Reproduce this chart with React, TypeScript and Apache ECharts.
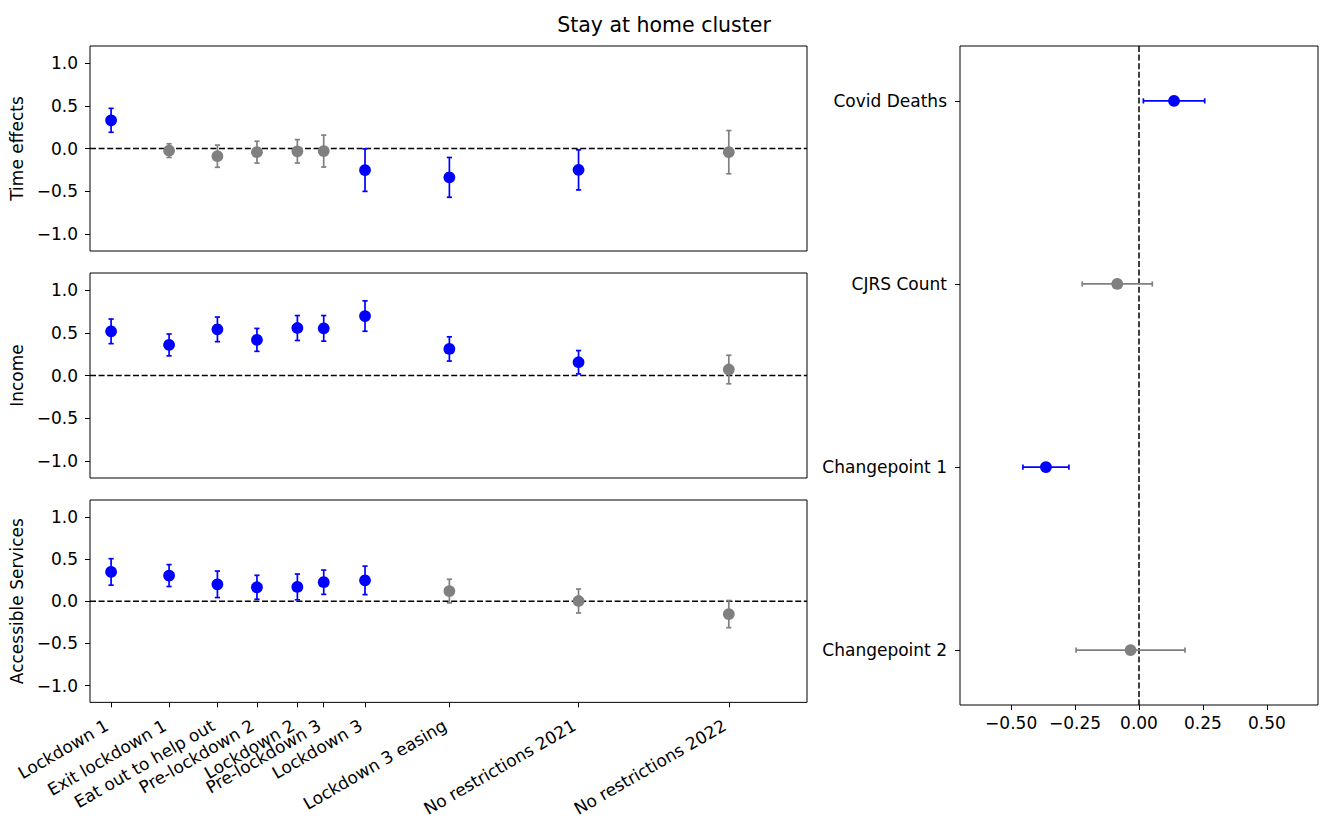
import React, { useEffect, useRef } from "react";
import * as echarts from "echarts";

// ---- data ----
const periodLabels = [
  "Lockdown 1",
  "Exit lockdown 1",
  "Eat out to help out",
  "Pre-lockdown 2",
  "Lockdown 2",
  "Pre-lockdown 3",
  "Lockdown 3",
  "Lockdown 3 easing",
  "No restrictions 2021",
  "No restrictions 2022",
];
// position of each period on the shared time axis (days since Lockdown 1)
const periodPositions = [0, 66, 121, 166, 212, 242, 289, 385, 532, 703];
const timeAxisMin = -24;
const timeAxisMax = 792;

const timeEffectsEst = [0.33, -0.025, -0.09, -0.043, -0.033, -0.03, -0.253, -0.338, -0.25, -0.043];
const timeEffectsErr = [0.14, 0.08, 0.13, 0.128, 0.137, 0.187, 0.249, 0.233, 0.235, 0.253];
const timeEffectsSig = [1, 0, 0, 0, 0, 0, 1, 1, 1, 0];

const incomeEst = [0.517, 0.358, 0.54, 0.417, 0.556, 0.552, 0.696, 0.311, 0.155, 0.07];
const incomeErr = [0.144, 0.128, 0.144, 0.134, 0.146, 0.15, 0.178, 0.142, 0.137, 0.167];
const incomeSig = [1, 1, 1, 1, 1, 1, 1, 1, 1, 0];

const servicesEst = [0.347, 0.304, 0.2, 0.165, 0.169, 0.225, 0.247, 0.12, 0.002, -0.153];
const servicesErr = [0.157, 0.13, 0.157, 0.142, 0.153, 0.144, 0.169, 0.14, 0.142, 0.161];
const servicesSig = [1, 1, 1, 1, 1, 1, 1, 0, 0, 0];

const leftYTicks = [-1, -0.5, 0, 0.5, 1];

const coefNames = ["Covid Deaths", "CJRS Count", "Changepoint 1", "Changepoint 2"];
const coefEst = [0.137, -0.085, -0.364, -0.033];
const coefErr = [0.12, 0.137, 0.09, 0.213];
const coefSig = [1, 0, 1, 0];
const coefXTicks = [-0.5, -0.25, 0, 0.25, 0.5];

const panelNames = ["Time effects", "Income", "Accessible Services"];
const title = "Stay at home cluster";

// ---- styling ----
const BLUE = "#0000ff";
const GRAY = "#808080";
const FONT = "DejaVu Sans";
const FS = 17;

const minus = (s: string) => s.replace("-", "\u2212");

function vertErrRender(params: any, api: any) {
  const x = api.value(0);
  const y = api.value(1);
  const e = api.value(2);
  const color = api.value(3) ? BLUE : GRAY;
  const c = api.coord([x, y]);
  const t = api.coord([x, y + e]);
  const b = api.coord([x, y - e]);
  const cap = 2.6;
  return {
    type: "group",
    children: [
      { type: "line", shape: { x1: c[0], y1: t[1], x2: c[0], y2: b[1] }, style: { stroke: color, lineWidth: 1.7 } },
      { type: "line", shape: { x1: c[0] - cap, y1: t[1], x2: c[0] + cap, y2: t[1] }, style: { stroke: color, lineWidth: 1.7 } },
      { type: "line", shape: { x1: c[0] - cap, y1: b[1], x2: c[0] + cap, y2: b[1] }, style: { stroke: color, lineWidth: 1.7 } },
      { type: "circle", shape: { cx: c[0], cy: c[1], r: 5.9 }, style: { fill: color } },
    ],
  };
}

function horizErrRender(params: any, api: any) {
  const x = api.value(0);
  const y = api.value(1);
  const e = api.value(2);
  const color = api.value(3) ? BLUE : GRAY;
  const c = api.coord([x, y]);
  const l = api.coord([x - e, y]);
  const r = api.coord([x + e, y]);
  const cap = 2.6;
  return {
    type: "group",
    children: [
      { type: "line", shape: { x1: l[0], y1: c[1], x2: r[0], y2: c[1] }, style: { stroke: color, lineWidth: 1.7 } },
      { type: "line", shape: { x1: l[0], y1: c[1] - cap, x2: l[0], y2: c[1] + cap }, style: { stroke: color, lineWidth: 1.7 } },
      { type: "line", shape: { x1: r[0], y1: c[1] - cap, x2: r[0], y2: c[1] + cap }, style: { stroke: color, lineWidth: 1.7 } },
      { type: "circle", shape: { cx: c[0], cy: c[1], r: 5.9 }, style: { fill: color } },
    ],
  };
}

function buildOption() {
  const panels = [
    [timeEffectsEst, timeEffectsErr, timeEffectsSig],
    [incomeEst, incomeErr, incomeSig],
    [servicesEst, servicesErr, servicesSig],
  ];
  const panelTops = [46, 273, 500];
  const grids: any[] = panelTops.map((t) => ({
    left: 90,
    top: t,
    width: 717,
    height: 205,
    show: true,
    borderColor: "#000",
    borderWidth: 1,
    backgroundColor: "#fff",
  }));
  grids.push({ left: 960, top: 46, width: 358, height: 659, show: true, borderColor: "#000", borderWidth: 1, backgroundColor: "#fff" });

  const tickStyle = { show: true, inside: false, length: 5, lineStyle: { color: "#000", width: 1 } };
  const labelBase = { color: "#000", fontSize: FS, fontFamily: FONT };
  const noLine = { show: false, onZero: false };

  const xAxes: any[] = [0, 1, 2].map((i) => ({
    type: "value",
    gridIndex: i,
    position: "bottom",
    min: timeAxisMin,
    max: timeAxisMax,
    splitLine: { show: false },
    axisLine: noLine,
    axisTick: i === 2 ? { ...tickStyle, customValues: periodPositions } : { show: false },
    axisLabel:
      i === 2
        ? {
            ...labelBase,
            customValues: periodPositions,
            rotate: 30,
            align: "right",
            verticalAlign: "bottom",
            margin: 29,
            formatter: (v: number) => periodLabels[periodPositions.indexOf(v)] ?? "",
          }
        : { show: false },
  }));
  xAxes.push({
    type: "value",
    gridIndex: 3,
    position: "bottom",
    min: -0.7,
    max: 0.7,
    splitLine: { show: false },
    axisLine: noLine,
    axisTick: { ...tickStyle, customValues: coefXTicks },
    axisLabel: { ...labelBase, customValues: coefXTicks, margin: 9, formatter: (v: number) => minus(v.toFixed(2)) },
  });

  const yAxes: any[] = [0, 1, 2].map((i) => ({
    type: "value",
    gridIndex: i,
    position: "left",
    min: -1.2,
    max: 1.2,
    splitLine: { show: false },
    axisLine: noLine,
    axisTick: { ...tickStyle, customValues: leftYTicks },
    axisLabel: { ...labelBase, customValues: leftYTicks, margin: 12, formatter: (v: number) => minus(v.toFixed(1)) },
    name: panelNames[i],
    nameLocation: "middle",
    nameRotate: 90,
    nameGap: 58,
    nameTextStyle: { ...labelBase },
  }));
  yAxes.push({
    type: "value",
    gridIndex: 3,
    position: "left",
    min: -0.3,
    max: 3.3,
    inverse: true,
    splitLine: { show: false },
    axisLine: noLine,
    axisTick: { ...tickStyle, customValues: [0, 1, 2, 3] },
    axisLabel: { ...labelBase, customValues: [0, 1, 2, 3], margin: 13, formatter: (v: number) => coefNames[v] ?? "" },
  });

  const series: any[] = [];
  panels.forEach(([est, err, sig], i) => {
    series.push({
      type: "line",
      xAxisIndex: i,
      yAxisIndex: i,
      data: [
        [timeAxisMin, 0],
        [timeAxisMax, 0],
      ],
      symbol: "none",
      silent: true,
      z: 1,
      lineStyle: { color: "#000", width: 1.5, type: [6, 2.6] },
    });
    series.push({
      type: "custom",
      xAxisIndex: i,
      yAxisIndex: i,
      renderItem: vertErrRender,
      encode: { x: 0, y: 1 },
      z: 3,
      data: periodPositions.map((p, k) => [p, est[k], err[k], sig[k]]),
    });
  });
  series.push({
    type: "line",
    xAxisIndex: 3,
    yAxisIndex: 3,
    data: [
      [0, -0.3],
      [0, 3.3],
    ],
    symbol: "none",
    silent: true,
    z: 1,
    lineStyle: { color: "#000", width: 1.5, type: [6, 2.6] },
  });
  series.push({
    type: "custom",
    xAxisIndex: 3,
    yAxisIndex: 3,
    renderItem: horizErrRender,
    encode: { x: 0, y: 1 },
    z: 3,
    data: coefNames.map((n, k) => [coefEst[k], k, coefErr[k], coefSig[k]]),
  });

  return {
    animation: false,
    backgroundColor: "#fff",
    textStyle: { fontFamily: FONT },
    grid: grids,
    xAxis: xAxes,
    yAxis: yAxes,
    series,
    graphic: [
      {
        type: "text",
        x: 664,
        y: 25,
        style: { text: title, fontSize: 20.5, fontFamily: FONT, fill: "#000", align: "center", verticalAlign: "middle" },
      },
    ],
  };
}

export default function App() {
  const ref = useRef<HTMLDivElement>(null);
  useEffect(() => {
    if (!ref.current) return;
    const chart = echarts.init(ref.current, undefined, { renderer: "svg" });
    chart.setOption(buildOption() as any);
    return () => chart.dispose();
  }, []);
  return <div ref={ref} style={{ position: "absolute", left: 0, top: 0, width: 1321, height: 819 }} />;
}
